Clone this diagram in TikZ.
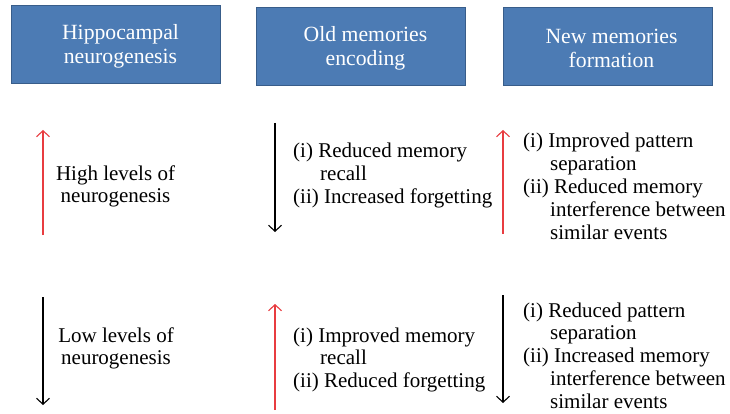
\documentclass[tikz,border=0pt]{standalone}
\usepackage{fontspec}
\setmainfont{Liberation Serif}
\usetikzlibrary{arrows.meta}
\definecolor{hdrfill}{RGB}{76,123,180}
\definecolor{hdrline}{RGB}{56,93,138}
\definecolor{arrred}{RGB}{232,60,64}
\newcommand{\hngind}{\hspace*{27pt}}
\tikzset{
  hdr/.style={draw=hdrline, fill=hdrfill, line width=0.8pt, minimum width=209pt, minimum height=78pt, inner sep=0pt},
  hdrtext/.style={text=white, font=\fontsize{21.7}{24}\selectfont, align=center, inner sep=0pt},
  bodyl/.style={font=\fontsize{21}{22.8}\selectfont, inner sep=0pt, anchor=base west},
  bodyc/.style={font=\fontsize{21}{22}\selectfont, inner sep=0pt, anchor=base},
  barb/.style={line width=1.1pt, -{Straight Barb[length=6pt,width=13pt]}},
  upar/.style={barb, draw=arrred},
  downar/.style={barb, draw=black}
}
\begin{document}
\begin{tikzpicture}[x=1pt,y=-1pt]
\useasboundingbox (0,0) rectangle (730,414);
% headers
\node[hdr] (h1) at (115.5,44) {};
\node[hdr] (h2) at (360.5,46) {};
\node[hdr] (h3) at (607.5,46) {};
\node[hdrtext] (h1t) at ([xshift=5pt,yshift=-2pt]h1.center) {Hippocampal\\neurogenesis};
\node[hdrtext] (h2t) at ([xshift=5pt,yshift=-2pt]h2.center) {Old memories\\encoding};
\node[hdrtext] (h3t) at ([xshift=4pt,yshift=-2pt]h3.center) {New memories\\formation};
% row 1
\coordinate (a1s) at (43,235); \coordinate (a1e) at (43,130);
\draw[upar] (a1s) -- (a1e);
\node[bodyc] (t1) at (115.5,180) {\begin{tabular}[t]{@{}c@{}}High levels of\\neurogenesis\end{tabular}};
\coordinate (a2s) at (275,123); \coordinate (a2e) at (275,232);
\draw[downar] (a2s) -- (a2e);
\node[bodyl] (m1) at (293,158) {\begin{tabular}[t]{@{}l@{}}(i) Reduced memory\\\hngind recall\\(ii) Increased forgetting\end{tabular}};
\coordinate (a3s) at (503,234); \coordinate (a3e) at (503,130);
\draw[upar] (a3s) -- (a3e);
\node[bodyl] (r1) at (523,148) {\begin{tabular}[t]{@{}l@{}}(i) Improved pattern\\\hngind separation\\(ii) Reduced memory\\\hngind interference between\\\hngind similar events\end{tabular}};
% row 2
\coordinate (b1s) at (43,297); \coordinate (b1e) at (43,405);
\draw[downar] (b1s) -- (b1e);
\node[bodyc] (t2) at (116,342) {\begin{tabular}[t]{@{}c@{}}Low levels of\\neurogenesis\end{tabular}};
\coordinate (b2s) at (275,410); \coordinate (b2e) at (275,304);
\draw[upar] (b2s) -- (b2e);
\node[bodyl] (m2) at (293,342) {\begin{tabular}[t]{@{}l@{}}(i) Improved memory\\\hngind recall\\(ii) Reduced forgetting\end{tabular}};
\coordinate (b3s) at (503,295); \coordinate (b3e) at (503,403);
\draw[downar] (b3s) -- (b3e);
\node[bodyl] (r2) at (523,317) {\begin{tabular}[t]{@{}l@{}}(i) Reduced pattern\\\hngind separation\\(ii) Increased memory\\\hngind interference between\\\hngind similar events\end{tabular}};
\end{tikzpicture}
\end{document}
